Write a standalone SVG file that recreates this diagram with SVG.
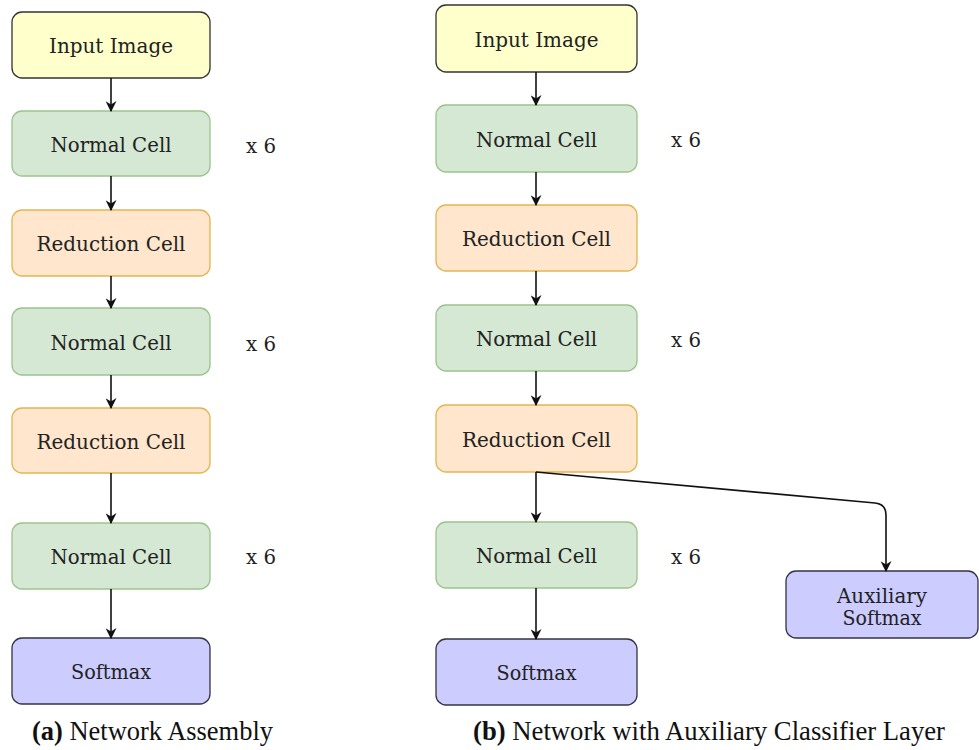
<svg xmlns="http://www.w3.org/2000/svg" width="979" height="750" viewBox="0 0 979 750">
  <style>
    .box { stroke-width: 1.3; }
    .input { fill: #ffffcc; stroke: #333333; }
    .normal { fill: #d5e8d4; stroke: #9cc28c; }
    .reduction { fill: #ffe6cc; stroke: #e3b550; }
    .softmax { fill: #ccccff; stroke: #333344; }
    .lbl { font-family: "DejaVu Serif", serif; font-size: 21px; fill: #222222; text-anchor: middle; }
    .rep { font-family: "DejaVu Serif", serif; font-size: 21px; fill: #222222; }
    .cap { font-family: "Liberation Serif", "Times New Roman", serif; font-size: 28px; fill: #111111; }
    .edge { fill: none; stroke: #111111; stroke-width: 1.6; marker-end: url(#arrow); }
  </style>
  <defs>
    <marker id="arrow" viewBox="0 0 10 10" refX="9" refY="5" markerWidth="11" markerHeight="11" markerUnits="userSpaceOnUse" orient="auto">
      <path d="M0,0 L10,5 L0,10 L3,5 Z" fill="#111111"/>
    </marker>
  </defs>

  <rect width="979" height="750" fill="#ffffff"/>

  <!-- (a) network assembly -->
  <g id="a-input"><rect class="box input" x="12" y="12" width="198" height="66" rx="10"/><text class="lbl" x="111" y="53" textLength="124" lengthAdjust="spacingAndGlyphs">Input Image</text></g>
  <g id="a-normal1"><rect class="box normal" x="12" y="111" width="198" height="65" rx="10"/><text class="lbl" x="111" y="152" textLength="121" lengthAdjust="spacingAndGlyphs">Normal Cell</text></g>
  <g id="a-reduction1"><rect class="box reduction" x="12" y="210" width="198" height="66" rx="10"/><text class="lbl" x="111" y="251" textLength="149" lengthAdjust="spacingAndGlyphs">Reduction Cell</text></g>
  <g id="a-normal2"><rect class="box normal" x="12" y="308" width="198" height="67" rx="10"/><text class="lbl" x="111" y="350" textLength="121" lengthAdjust="spacingAndGlyphs">Normal Cell</text></g>
  <g id="a-reduction2"><rect class="box reduction" x="12" y="408" width="198" height="65" rx="10"/><text class="lbl" x="111" y="449" textLength="149" lengthAdjust="spacingAndGlyphs">Reduction Cell</text></g>
  <g id="a-normal3"><rect class="box normal" x="12" y="523" width="198" height="66" rx="10"/><text class="lbl" x="111" y="564" textLength="121" lengthAdjust="spacingAndGlyphs">Normal Cell</text></g>
  <g id="a-softmax"><rect class="box softmax" x="12" y="638" width="198" height="66" rx="10"/><text class="lbl" x="111" y="679" textLength="80" lengthAdjust="spacingAndGlyphs">Softmax</text></g>

  <g id="a-repeats">
    <text class="rep" x="246" y="153" textLength="30" lengthAdjust="spacingAndGlyphs">x 6</text>
    <text class="rep" x="246" y="351" textLength="30" lengthAdjust="spacingAndGlyphs">x 6</text>
    <text class="rep" x="246" y="564" textLength="30" lengthAdjust="spacingAndGlyphs">x 6</text>
  </g>

  <!-- (b) network with auxiliary classifier -->
  <g id="b-input"><rect class="box input" x="436" y="5" width="201" height="67" rx="10"/><text class="lbl" x="536.5" y="47" textLength="124" lengthAdjust="spacingAndGlyphs">Input Image</text></g>
  <g id="b-normal1"><rect class="box normal" x="436" y="105" width="201" height="67" rx="10"/><text class="lbl" x="536.5" y="147" textLength="121" lengthAdjust="spacingAndGlyphs">Normal Cell</text></g>
  <g id="b-reduction1"><rect class="box reduction" x="436" y="205" width="201" height="66" rx="10"/><text class="lbl" x="536.5" y="246" textLength="149" lengthAdjust="spacingAndGlyphs">Reduction Cell</text></g>
  <g id="b-normal2"><rect class="box normal" x="436" y="305" width="201" height="66" rx="10"/><text class="lbl" x="536.5" y="346" textLength="121" lengthAdjust="spacingAndGlyphs">Normal Cell</text></g>
  <g id="b-reduction2"><rect class="box reduction" x="436" y="405" width="201" height="67" rx="10"/><text class="lbl" x="536.5" y="447" textLength="149" lengthAdjust="spacingAndGlyphs">Reduction Cell</text></g>
  <g id="b-normal3"><rect class="box normal" x="436" y="522" width="201" height="66" rx="10"/><text class="lbl" x="536.5" y="563" textLength="121" lengthAdjust="spacingAndGlyphs">Normal Cell</text></g>
  <g id="b-softmax"><rect class="box softmax" x="436" y="639" width="201" height="66" rx="10"/><text class="lbl" x="536.5" y="680" textLength="80" lengthAdjust="spacingAndGlyphs">Softmax</text></g>
  <g id="b-aux-softmax"><rect class="box softmax" x="786" y="571" width="192" height="67" rx="10"/><text class="lbl" x="882" y="603" textLength="90" lengthAdjust="spacingAndGlyphs">Auxiliary</text><text class="lbl" x="882" y="625" textLength="79" lengthAdjust="spacingAndGlyphs">Softmax</text></g>

  <g id="b-repeats">
    <text class="rep" x="671" y="147" textLength="30" lengthAdjust="spacingAndGlyphs">x 6</text>
    <text class="rep" x="671" y="347" textLength="30" lengthAdjust="spacingAndGlyphs">x 6</text>
    <text class="rep" x="671" y="564" textLength="30" lengthAdjust="spacingAndGlyphs">x 6</text>
  </g>

  <g id="connectors">
    <path class="edge" d="M111,78 L111,111"/>
    <path class="edge" d="M111,176 L111,210"/>
    <path class="edge" d="M111,276 L111,308"/>
    <path class="edge" d="M111,375 L111,408"/>
    <path class="edge" d="M111,473 L111,523"/>
    <path class="edge" d="M111,589 L111,638"/>

    <path class="edge" d="M536,72 L536,105"/>
    <path class="edge" d="M536,172 L536,205"/>
    <path class="edge" d="M536,271 L536,305"/>
    <path class="edge" d="M536,371 L536,405"/>
    <path class="edge" d="M536,472 L536,522"/>
    <path class="edge" d="M536,588 L536,639"/>
    <path class="edge" d="M536,472 L875,503 Q886,504 886,515 L886,571"/>
  </g>

  <g id="captions">
    <text class="cap" x="32" y="740" textLength="241" lengthAdjust="spacingAndGlyphs"><tspan font-weight="bold">(a)</tspan> Network Assembly</text>
    <text class="cap" x="473" y="740" textLength="472" lengthAdjust="spacingAndGlyphs"><tspan font-weight="bold">(b)</tspan> Network with Auxiliary Classifier Layer</text>
  </g>
</svg>
